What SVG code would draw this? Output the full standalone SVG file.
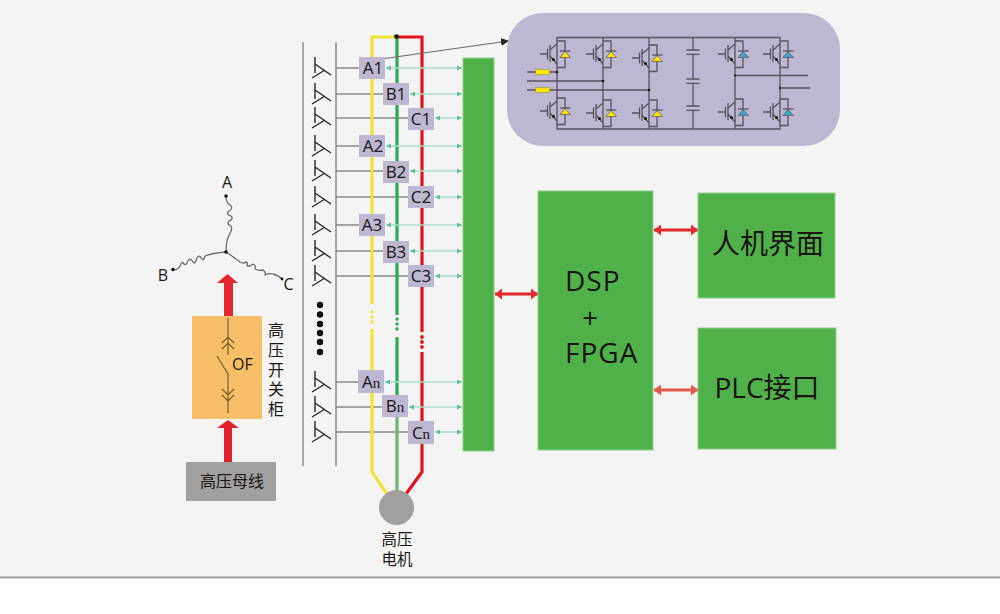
<svg xmlns="http://www.w3.org/2000/svg" width="1000" height="614" viewBox="0 0 1000 614">
  <style>
    text { font-family: "Open Sans", "Noto Sans CJK SC", sans-serif; fill: #1a1412; }
    .cjk { font-family: "Noto Sans CJK SC", sans-serif; }
    .lbl { font-size: 17px; text-anchor: middle; }
    .lbl tspan { font-family: "Liberation Serif", serif; font-size: 15px; }
    .box { fill: #bdb7d1; }
    .green { fill: #50b14a; stroke: #8fd08a; stroke-width: 1; }
    .big { font-size: 28px; }
    .rail { stroke: #8c8785; stroke-width: 1.4; fill: none; }
    .feed { stroke: #8c8785; stroke-width: 1.6; fill: none; }
    .sig { stroke: #a9dcc8; stroke-width: 1.5; fill: none; marker-start: url(#sigL); marker-end: url(#sigR); }
    .ant { stroke: #2b2623; stroke-width: 1.4; fill: none; }
    .ckt { stroke: #57525f; stroke-width: 1.3; fill: none; }
    .coil { stroke: #6a6a6a; stroke-width: 1.3; fill: none; stroke-linejoin: round; }
    .yl { stroke: #f1e23c; stroke-width: 3.2; fill: none; }
    .gn { stroke: #2aa957; stroke-width: 3.2; fill: none; }
    .rd { stroke: #e3131f; stroke-width: 3.2; fill: none; }
    .sw { stroke: #7a5c2a; stroke-width: 1.2; fill: none; }
    .link { stroke: #e02a2e; stroke-width: 3; fill: none; marker-start: url(#redL); marker-end: url(#redR); }
    .link2 { stroke: #e0584a; stroke-width: 3; fill: none; marker-start: url(#salL); marker-end: url(#salR); }
  </style>
  <defs>
    <marker id="sigR" markerUnits="userSpaceOnUse" markerWidth="5" markerHeight="5" refX="5" refY="2.5" orient="auto"><path d="M0 0L5 2.5L0 5Z" fill="#5fbf9c"/></marker>
    <marker id="sigL" markerUnits="userSpaceOnUse" markerWidth="5" markerHeight="5" refX="0" refY="2.5" orient="auto"><path d="M5 0L0 2.5L5 5Z" fill="#5fbf9c"/></marker>
    <marker id="redR" markerUnits="userSpaceOnUse" markerWidth="7" markerHeight="11" refX="7" refY="5.5" orient="auto"><path d="M0 0L7 5.5L0 11Z" fill="#e02a2e"/></marker>
    <marker id="redL" markerUnits="userSpaceOnUse" markerWidth="7" markerHeight="11" refX="0" refY="5.5" orient="auto"><path d="M7 0L0 5.5L7 11Z" fill="#e02a2e"/></marker>
    <marker id="salR" markerUnits="userSpaceOnUse" markerWidth="7" markerHeight="11" refX="7" refY="5.5" orient="auto"><path d="M0 0L7 5.5L0 11Z" fill="#e0584a"/></marker>
    <marker id="salL" markerUnits="userSpaceOnUse" markerWidth="7" markerHeight="11" refX="0" refY="5.5" orient="auto"><path d="M7 0L0 5.5L7 11Z" fill="#e0584a"/></marker>
    <marker id="blk" markerUnits="userSpaceOnUse" markerWidth="8" markerHeight="8" refX="7" refY="4" orient="auto"><path d="M0 0L8 4L0 8Z" fill="#2b2623"/></marker>
    <!-- Winding tap symbol -->
    <g id="tap"><path class="ant" d="M315 -11V5M315 -4L331 7M312 10L325 2"/></g>
    <!-- IGBT with anti-parallel diode, leg at x=0 -->
    <g id="igbt">
      <path class="ckt" d="M-17 0H-10M-9.5 -5.5V5.5M-7 -9V8M-7 -4L0 -10M-7 2L0 10M0 -13H8V13.5H0"/>
      <circle cx="-3.5" cy="5.5" r="1.5" fill="#1a1412"/>
    </g>
    <g id="dy"><path d="M3 3.5L8 -2.5L13.5 3.5Z" fill="#ffe600" stroke="#57525f" stroke-width=".7"/><path class="ckt" d="M3 -3H13.5"/></g>
    <g id="db"><path d="M3 3.5L8 -2.5L13.5 3.5Z" fill="#3ea6c9" stroke="#57525f" stroke-width=".7"/><path class="ckt" d="M3 -3H13.5"/></g>
  </defs>

  <rect width="1000" height="614" fill="#fff"/>
  <rect width="1000" height="577" fill="#f4f4f4"/>
  <rect y="576.5" width="1000" height="1.8" fill="#9a9596"/>

  <g id="star">
    <path class="coil" d="M226 196Q226 203 230 205Q234 208 229 211Q225 214 231 216Q234 219 229 221Q226 224 231 226Q233 229 229 235Q226 241 226 252"/>
    <path class="coil" d="M173 270Q178 270 180 266Q182 260 184 264Q186 266 188 261Q190 257 193 262Q195 265 197 258Q199 254 202 259Q204 261 205 256Q212 253 226 252"/>
    <path class="coil" d="M226 252Q235 258 240 262Q244 264 246 262Q248 262 247 266Q250 267 253 264Q256 265 255 269Q259 271 263 270Q266 272 265 275Q270 273 273 274Q278 275 282 279"/>
    <circle cx="226" cy="196" r="1.8" fill="#111"/><circle cx="173" cy="269.5" r="1.8" fill="#111"/><circle cx="282" cy="279" r="1.4" fill="#111"/><circle cx="226" cy="252" r="1.8" fill="#111"/>
    <text x="227" y="188" font-size="16" text-anchor="middle">A</text>
    <text x="163" y="281" font-size="16" text-anchor="middle">B</text>
    <text x="288.5" y="290" font-size="16" text-anchor="middle">C</text>
  </g>

  <g id="feed-arrows">
    <path d="M224 316V283H217L227.5 274L238 283H233V316Z" fill="#e0282e"/>
    <path d="M224 462V428H217L228 420L239 428H232V462Z" fill="#e0202c"/>
  </g>

  <g id="switchgear">
    <rect x="192" y="316" width="70" height="103" fill="#f7bf68"/>
    <path class="sw" d="M228 318V355M222 343L228 337L234 343M222 349L228 343L234 349M217 356L228 374V413M222 389L228 395L234 389M222 395L228 401L234 395"/>
    <text x="232" y="370" font-size="16">OF</text>
    <text class="cjk" x="276" y="322" font-size="16" letter-spacing="3.75" writing-mode="vertical-rl">高压开关柜</text>
  </g>

  <g id="busbar">
    <rect x="186" y="462" width="90" height="39" fill="#a0a0a0"/>
    <text class="cjk" x="232" y="487" font-size="16" text-anchor="middle">高压母线</text>
  </g>

  <g id="windings">
    <path class="rail" d="M303 42V466M336 42V466"/>
    <use href="#tap" y="68"/><use href="#tap" y="94"/><use href="#tap" y="118"/>
    <use href="#tap" y="146"/><use href="#tap" y="171"/><use href="#tap" y="197"/>
    <use href="#tap" y="225"/><use href="#tap" y="251"/><use href="#tap" y="276"/>
    <use href="#tap" y="382"/><use href="#tap" y="407"/><use href="#tap" y="432"/>
    <g fill="#111">
      <circle cx="320" cy="305" r="3.2"/><circle cx="320" cy="314.5" r="3.2"/><circle cx="320" cy="324" r="3.2"/>
      <circle cx="320" cy="333" r="3.2"/><circle cx="320" cy="342" r="3.2"/><circle cx="320" cy="352" r="3.2"/>
    </g>
  </g>

  <g id="connectors">
    <path class="feed" d="M336 68H360M336 94H384M336 118H409M336 146H360M336 171H384M336 197H409M336 225H360M336 251H384M336 276H409M336 382H359M336 407H383M336 432H409"/>
    <path class="yl" d="M397 37H372V304M372 329V472L387 494"/>
    <path class="rd" d="M397 37H422V332M422 352V472L406 494"/>
    <path class="gn" d="M397 37V315M397 337V395"/>
    <path d="M397 395V492" stroke="#6db56e" stroke-width="3.2" fill="none"/>
    <g fill="#f1e23c"><circle cx="372" cy="312" r="1.7"/><circle cx="372" cy="317" r="1.7"/><circle cx="372" cy="322" r="1.7"/></g>
    <g fill="#2aa957"><circle cx="397" cy="319" r="1.7"/><circle cx="397" cy="324" r="1.7"/><circle cx="397" cy="329" r="1.7"/></g>
    <g fill="#e3131f"><circle cx="422" cy="337" r="1.9"/><circle cx="422" cy="342" r="1.9"/><circle cx="422" cy="347" r="1.9"/></g>
    <circle cx="396.5" cy="36.5" r="2.3" fill="#111"/>
    <path class="sig" d="M386 68H462"/><path class="sig" d="M410 94H462"/><path class="sig" d="M435 118H462"/>
    <path class="sig" d="M386 146H462"/><path class="sig" d="M410 171H462"/><path class="sig" d="M435 197H462"/>
    <path class="sig" d="M386 225H462"/><path class="sig" d="M410 251H462"/><path class="sig" d="M435 276H462"/>
    <path class="sig" d="M385 382H462"/><path class="sig" d="M409 407H462"/><path class="sig" d="M435 432H462"/>
    <path d="M385 58.5L508 41" stroke="#6e6a68" stroke-width="1.2" fill="none" marker-end="url(#blk)"/>
    <path class="link" d="M495 294H538"/>
    <path class="link" d="M654 230H698"/>
    <path class="link2" d="M654 390H698"/>
  </g>

  <g id="A1"><rect class="box" x="359" y="57" width="26" height="22"/><text class="lbl" x="373" y="74">A1</text></g>
  <g id="B1"><rect class="box" x="383" y="83" width="26" height="22"/><text class="lbl" x="396" y="100">B1</text></g>
  <g id="C1"><rect class="box" x="408" y="108" width="26" height="22"/><text class="lbl" x="421" y="125">C1</text></g>
  <g id="A2"><rect class="box" x="359" y="135" width="26" height="22"/><text class="lbl" x="373" y="152">A2</text></g>
  <g id="B2"><rect class="box" x="383" y="161" width="26" height="22"/><text class="lbl" x="396" y="178">B2</text></g>
  <g id="C2"><rect class="box" x="408" y="186" width="26" height="22"/><text class="lbl" x="421" y="203">C2</text></g>
  <g id="A3"><rect class="box" x="359" y="214" width="26" height="22"/><text class="lbl" x="372" y="231">A3</text></g>
  <g id="B3"><rect class="box" x="383" y="241" width="26" height="22"/><text class="lbl" x="396" y="258">B3</text></g>
  <g id="C3"><rect class="box" x="408" y="265" width="26" height="22"/><text class="lbl" x="421" y="282">C3</text></g>
  <g id="An"><rect class="box" x="358" y="370" width="26" height="23"/><text class="lbl" x="371" y="388">A<tspan>n</tspan></text></g>
  <g id="Bn"><rect class="box" x="382" y="395" width="26" height="22"/><text class="lbl" x="395" y="412">B<tspan>n</tspan></text></g>
  <g id="Cn"><rect class="box" x="408" y="421" width="26" height="23"/><text class="lbl" x="421" y="439">C<tspan>n</tspan></text></g>

  <g id="motor">
    <circle cx="396.5" cy="507.5" r="17.5" fill="#a0a0a0"/>
    <text class="cjk" x="397" y="545" font-size="15.5" text-anchor="middle">高压</text>
    <text class="cjk" x="397" y="565" font-size="15.5" text-anchor="middle">电机</text>
  </g>

  <g id="driver-bus"><rect class="green" x="463" y="58" width="31" height="393"/></g>

  <g id="converter">
    <rect x="507" y="13" width="333" height="133" rx="36" fill="#bdb7d1"/>
    <path class="ckt" d="M557 37.5H780V129H557ZM603 37.5V129M649 37.5V129M735 37.5V129M693 37.5V50M693 54.3V79M693 83.3V106M693 110.3V129M686.5 50H699.5M686.5 54.3H699.5M686.5 79H699.5M686.5 83.3H699.5M686.5 106H699.5M686.5 110.3H699.5"/>
    <path class="ckt" d="M527 72H557M527 81H603M527 90H649M735 75.5H808M780 88H810"/>
    <g fill="#ffe600" stroke="#8a8430" stroke-width=".5"><rect x="535.5" y="69.5" width="14" height="5"/><rect x="535.5" y="87.5" width="14" height="5"/></g>
    <g fill="#1a1412"><circle cx="557" cy="72" r="1.3"/><circle cx="603" cy="81" r="1.3"/><circle cx="649" cy="90" r="1.3"/><circle cx="735" cy="75.5" r="1.1"/><circle cx="780" cy="88" r="1.1"/></g>
    <use href="#igbt" x="557" y="54"/><use href="#dy" x="557" y="54"/>
    <use href="#igbt" x="603" y="54"/><use href="#dy" x="603" y="54"/>
    <use href="#igbt" x="649" y="58"/><use href="#dy" x="649" y="58"/>
    <use href="#igbt" x="557" y="111"/><use href="#dy" x="557" y="111"/>
    <use href="#igbt" x="603" y="113"/><use href="#dy" x="603" y="113"/>
    <use href="#igbt" x="649" y="113"/><use href="#dy" x="649" y="113"/>
    <use href="#igbt" x="735" y="54"/><use href="#db" x="735" y="54"/>
    <use href="#igbt" x="780" y="54"/><use href="#db" x="780" y="54"/>
    <use href="#igbt" x="735" y="112"/><use href="#db" x="735" y="112"/>
    <use href="#igbt" x="780" y="112"/><use href="#db" x="780" y="112"/>
  </g>

  <g id="controller">
    <rect class="green" x="538" y="191" width="115" height="259"/>
    <text class="big" x="565" y="291" letter-spacing="1">DSP</text>
    <text class="big" x="590" y="328" text-anchor="middle">+</text>
    <text class="big" x="565" y="363" letter-spacing="1">FPGA</text>
  </g>

  <g id="hmi">
    <rect class="green" x="698" y="193" width="137" height="105"/>
    <text class="cjk big" x="768" y="254" text-anchor="middle">人机界面</text>
  </g>

  <g id="plc">
    <rect class="green" x="698" y="328" width="138" height="121"/>
    <text class="big" x="767" y="398" text-anchor="middle">PLC<tspan class="cjk">接口</tspan></text>
  </g>
</svg>
